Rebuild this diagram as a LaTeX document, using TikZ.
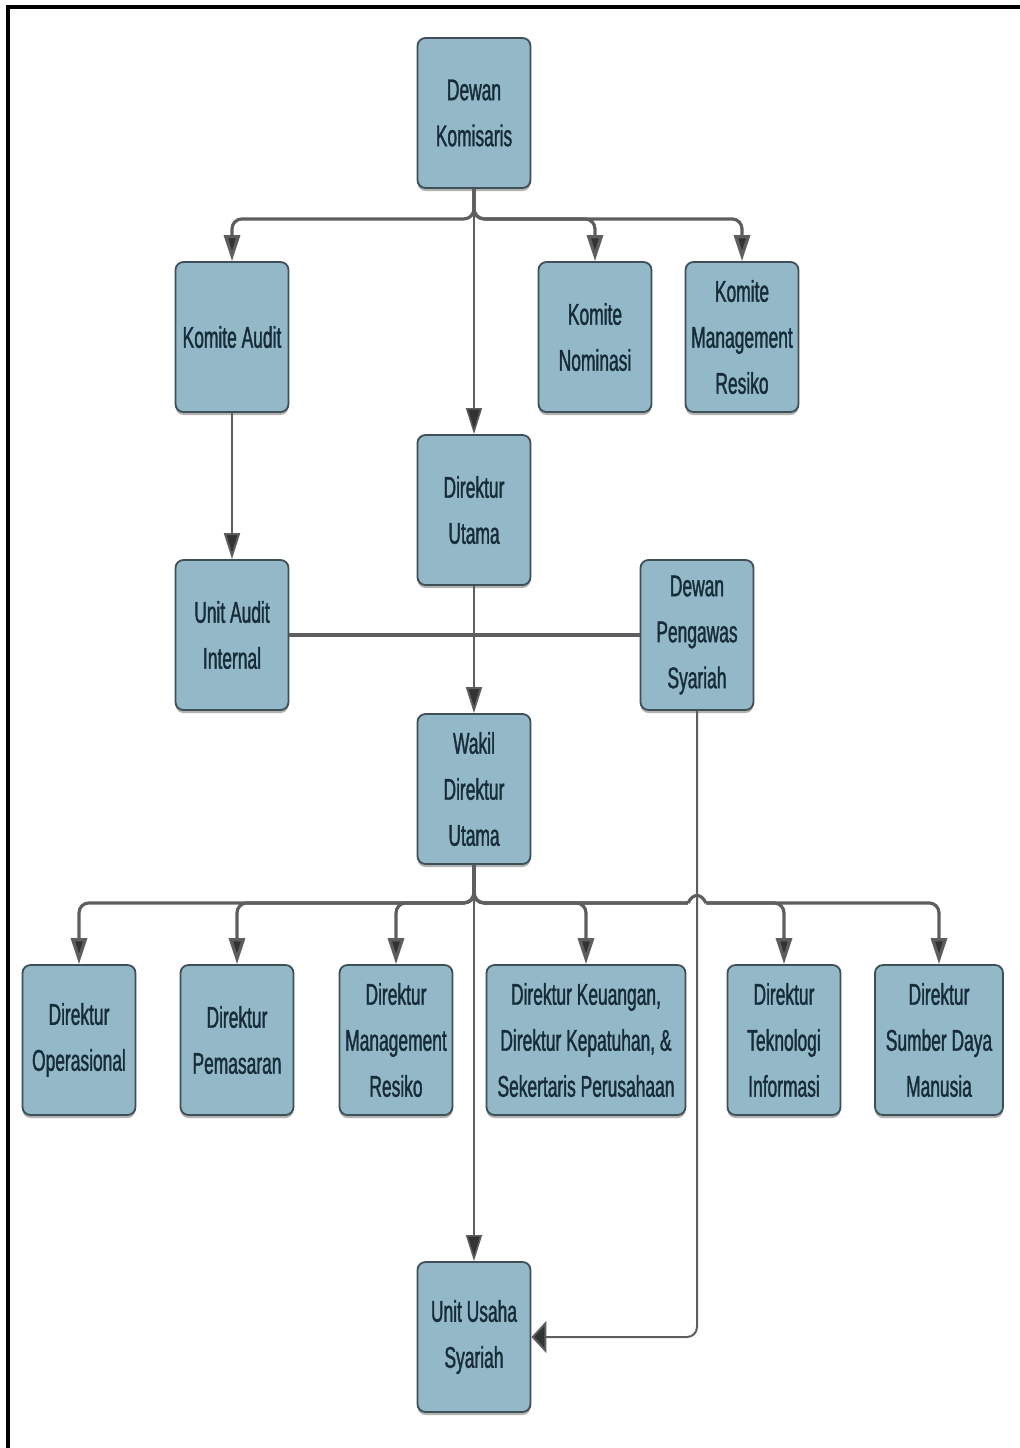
\documentclass[tikz,border=0pt]{standalone}
\usepackage{fontspec}
\setmainfont{Liberation Sans}[FakeStretch=0.58,FakeBold=1.2]
\usetikzlibrary{arrows.meta,shadows}

\definecolor{boxfill}{HTML}{93B8C8}
\definecolor{boxedge}{HTML}{3F4F57}
\definecolor{boxtext}{HTML}{172C38}
\definecolor{wire}{HTML}{5E5E5E}
\definecolor{tipc}{HTML}{333333}

\begin{document}
\begin{tikzpicture}[x=0.5pt,y=-0.5pt,
  unit/.style={draw=boxedge, line width=0.9pt, fill=boxfill, rounded corners=4pt,
    minimum width=56.5pt, minimum height=75pt, align=center, text=boxtext,
    font=\fontsize{15}{23}\selectfont, inner sep=1pt,
    drop shadow={shadow xshift=0pt, shadow yshift=-1.5pt, fill=black, opacity=0.3}},
  widebox/.style={unit, minimum width=99.5pt},
  midbox/.style={unit, minimum width=64pt},
  bus/.style={draw=wire, line width=1.6pt, rounded corners=5pt},
  thinwire/.style={draw=wire, line width=0.8pt},
  downtip/.style={-{Triangle[length=13pt,width=8pt,fill=tipc]}},
  sidetip/.style={-{Triangle[length=7.5pt,width=16pt,fill=tipc]}},
  frame/.style={draw=black, line width=1.6pt}]

\useasboundingbox (0,0) rectangle (1020,1448);
\draw[frame] (8,1448) -- (8,7) -- (1020,7);

% boards and committees
\node[unit] (dk) at (474,113) {Dewan\\Komisaris};
\node[unit] (ka) at (232,337) {Komite Audit};
\node[unit] (kn) at (595,337) {Komite\\Nominasi};
\node[unit] (kmr) at (742,337) {Komite\\Management\\Resiko};
\node[unit] (du) at (474,510) {Direktur\\Utama};
\node[unit] (uai) at (232,635) {Unit Audit\\Internal};
\node[unit] (dps) at (697,635) {Dewan\\Pengawas\\Syariah};
\node[unit] (wdu) at (474,789) {Wakil\\Direktur\\Utama};

% directors
\node[unit] (dop) at (79,1040) {Direktur\\Operasional};
\node[unit] (dpm) at (237,1040) {Direktur\\Pemasaran};
\node[unit] (dmr) at (396,1040) {Direktur\\Management\\Resiko};
\node[widebox] (dkeu) at (586,1040) {Direktur Keuangan,\\Direktur Kepatuhan, \&\\Sekertaris Perusahaan};
\node[unit] (dti) at (784,1040) {Direktur\\Teknologi\\Informasi};
\node[midbox] (dsdm) at (939,1040) {Direktur\\Sumber Daya\\Manusia};

\node[unit] (uus) at (474,1337) {Unit Usaha\\Syariah};

% board to committees
\draw[thinwire, downtip] (dk) -- (du);
\draw[bus, downtip] (dk.south) -- ++(0,30) -| (ka.north);
\draw[bus, downtip] (dk.south) -- ++(0,30) -| (kn.north);
\draw[bus, downtip] (dk.south) -- ++(0,30) -| (kmr.north);

% audit chain and supervisory link
\draw[thinwire, line width=1pt, downtip] (ka) -- (uai);
\draw[bus] (uai.east) -- (dps.west);
\draw[thinwire, line width=1pt, downtip] (du) -- (wdu);

% deputy director to directors
\draw[bus, downtip] (wdu.south) -- ++(0,38) -| (dop.north);
\draw[bus, downtip] (wdu.south) -- ++(0,38) -| (dpm.north);
\draw[bus, downtip] (wdu.south) -- ++(0,38) -| (dmr.north);
\draw[bus, downtip] (wdu.south) -- ++(0,38) -| (dkeu.north);
\draw[bus, downtip] (wdu.south) -- ++(0,38) -| (dti.north);
\draw[bus, downtip] (wdu.south) -- ++(0,38) -| (dsdm.north);

% line hop where the bus crosses the sharia board line
\fill[white] (688,898) rectangle (706,908);
\draw[bus] (688,903) .. controls (693,893) and (701,893) .. (706,903);

\draw[thinwire, downtip] (wdu) -- (uus);
\draw[thinwire, line width=1pt, rounded corners=5pt, sidetip] (dps.south) |- (uus.east);
\end{tikzpicture}
\end{document}
